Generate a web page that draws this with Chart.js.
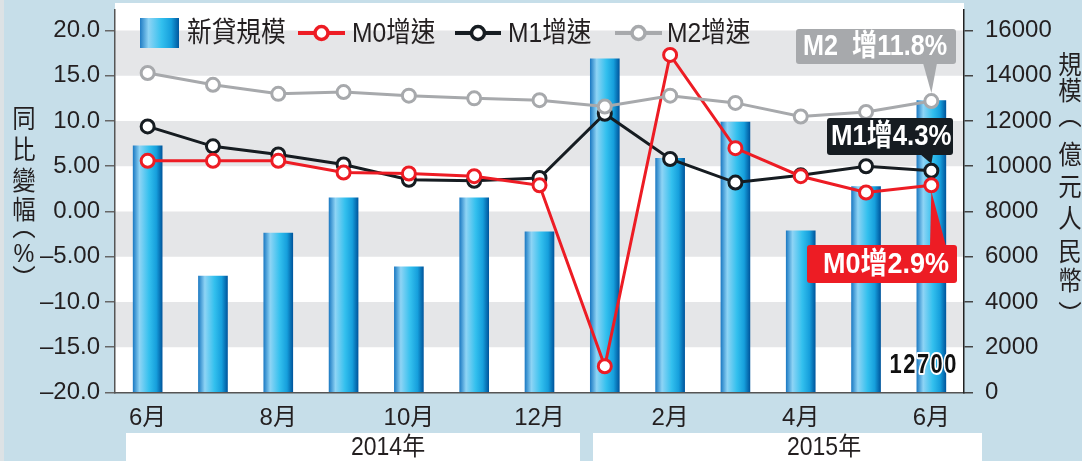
<!DOCTYPE html>
<html>
<head>
<meta charset="utf-8">
<script src="https://cdn.jsdelivr.net/npm/chart.js@4.4.1/dist/chart.umd.min.js"></script>
<style>
    html, body { margin: 0; padding: 0; background: #c6dee9; }
    #wrap { width: 1082px; height: 461px; }
</style>
</head>
<body>
<div id="wrap"><canvas id="chart" width="1082" height="461"></canvas></div>
<script>
// data
const months = ['6月', '7月', '8月', '9月', '10月', '11月', '12月', '1月', '2月', '3月', '4月', '5月', '6月'];
const newLoans = [10900, 5150, 7050, 8600, 5550, 8600, 7100, 14750, 10350, 11950, 7150, 9100, 12900]; // 億元人民幣
const m0Growth = [5.6, 5.6, 5.6, 4.3, 4.2, 3.9, 2.9, -17.1, 17.3, 7.0, 3.9, 2.1, 2.9];
const m1Growth = [9.4, 7.2, 6.3, 5.2, 3.5, 3.4, 3.7, 10.8, 5.8, 3.2, 4.0, 5.0, 4.5];
const m2Growth = [15.3, 14.0, 13.0, 13.2, 12.8, 12.5, 12.3, 11.6, 12.8, 12.0, 10.5, 11.0, 12.2];

const leftTicks = [-20, -15, -10, -5, 0, 5, 10, 15, 20];
const leftTickLabels = ['–20.0', '–15.0', '–10.0', '–5.00', '0.00', '5.00', '10.0', '15.0', '20.0'];
const rightTicks = [0, 2000, 4000, 6000, 8000, 10000, 12000, 14000, 16000];

const legendLabels = ['新貸規模', 'M0增速', 'M1增速', 'M2增速'];
const yearLabels = ['2014年', '2015年'];
const calloutLabels = ['M2  增11.8%', 'M1增4.3%', 'M0增2.9%'];
const loanLabel = '12700';
const leftTitle = ['同', '比', '變', '幅', '︵', '%', '︶'];
const rightTitle = ['規', '模', '︵', '億', '元', '人', '民', '幣', '︶'];

const RED = '#ed1c24';
const BLACK = '#161c21';
const GREY = '#a7a9ac';
const INK = '#231f20';
const FAM = "'Liberation Sans', 'Noto Sans CJK TC', sans-serif";

function barGradient(c, cx, half) {
    const g = c.createLinearGradient(cx - half, 0, cx + half, 0);
    g.addColorStop(0, '#1f7cc4');
    g.addColorStop(0.22, '#8ed4f5');
    g.addColorStop(0.55, '#33c0ee');
    g.addColorStop(0.8, '#169fdc');
    g.addColorStop(1, '#00579e');
    return g;
}

function txt(c, s, x, y, font, color, sx, align) {
    c.save();
    c.font = font;
    c.fillStyle = color;
    c.textAlign = align || 'left';
    c.textBaseline = 'middle';
    c.translate(x, y);
    c.scale(sx, 1);
    c.fillText(s, 0, 0);
    c.restore();
}

function box(c, x0, y0, x1, y1, color, tri) {
    c.save();
    c.fillStyle = color;
    c.beginPath();
    c.roundRect(x0, y0, x1 - x0, y1 - y0, 3);
    c.fill();
    c.beginPath();
    c.moveTo(tri[0][0], tri[0][1]);
    c.lineTo(tri[1][0], tri[1][1]);
    c.lineTo(tri[2][0], tri[2][1]);
    c.closePath();
    c.fill();
    c.restore();
}

const backdrop = {
    id: 'backdrop',
    beforeDraw(chart) {
        const c = chart.ctx;
        const a = chart.chartArea;
        const y = chart.scales.y;
        c.save();
        c.fillStyle = '#c6dee9';
        c.fillRect(0, 0, chart.width, chart.height);
        c.fillStyle = '#dce2e5';
        c.fillRect(0, 0, 4, chart.height);
        c.fillStyle = '#ffffff';
        c.fillRect(a.left, 3, a.right - a.left, a.bottom - 3);
        // grey bands every other 5 points
        c.fillStyle = '#e5e6e8';
        for (let v = 15; v >= -15; v -= 10) {
            const t = y.getPixelForValue(v + 5);
            const b = y.getPixelForValue(v);
            c.fillRect(a.left, t, a.right - a.left, b - t);
        }
        // year boxes
        c.fillStyle = '#ffffff';
        c.fillRect(126, 433, 454, 28);
        c.fillRect(593, 433, 389, 28);
        c.restore();
    },
    afterDraw(chart) {
        const c = chart.ctx;
        const xs = chart.scales.x;
        const y = chart.scales.y;

        // legend
        c.save();
        c.fillStyle = barGradient(c, 159.5, 19.5);
        c.fillRect(140, 18, 39, 30);
        const legendItems = [
            { color: RED, x0: 298, x1: 345, tx: 352 },
            { color: BLACK, x0: 455, x1: 501, tx: 508 },
            { color: GREY, x0: 615, x1: 662, tx: 667 }
        ];
        legendItems.forEach((it, i) => {
            c.strokeStyle = it.color;
            c.lineWidth = 4;
            c.beginPath();
            c.moveTo(it.x0, 33);
            c.lineTo(it.x1, 33);
            c.stroke();
            c.beginPath();
            c.arc((it.x0 + it.x1) / 2, 33, 6.5, 0, Math.PI * 2);
            c.fillStyle = '#fff';
            c.fill();
            c.lineWidth = 3.5;
            c.stroke();
            txt(c, legendLabels[i + 1], it.tx, 34, '28px ' + FAM, INK, 0.88);
        });
        txt(c, legendLabels[0], 187, 34, '28px ' + FAM, INK, 0.88);
        c.restore();

        // callouts
        const tx = xs.getPixelForValue(12);
        const t2 = y.getPixelForValue(m2Growth[12]);
        const t1 = y.getPixelForValue(m1Growth[12]);
        const t0 = y.getPixelForValue(m0Growth[12]);
        box(c, 796, 29, 956, 64, GREY, [[923, 63], [937, 63], [tx, t2 - 8]]);
        txt(c, calloutLabels[0], 803, 47, 'bold 30px ' + FAM, '#fff', 0.84);
        box(c, 827, 118, 953, 155, BLACK, [[920, 154], [933, 154], [tx, t1 - 7]]);
        txt(c, calloutLabels[1], 831, 137, 'bold 30px ' + FAM, '#fff', 0.86);
        box(c, 807, 245, 957, 283, RED, [[930, 246], [946, 246], [tx, t0 + 6]]);
        txt(c, calloutLabels[2], 823, 265, 'bold 30px ' + FAM, '#fff', 0.9);

        // loan size of the last month
        c.save();
        c.font = 'bold 28px ' + FAM;
        c.letterSpacing = '2px';
        c.textAlign = 'right';
        c.textBaseline = 'alphabetic';
        c.translate(958, 373);
        c.scale(0.78, 1);
        c.lineWidth = 4;
        c.strokeStyle = '#fff';
        c.lineJoin = 'round';
        c.strokeText(loanLabel, 0, 0);
        c.fillStyle = '#111';
        c.fillText(loanLabel, 0, 0);
        c.restore();

        // year labels
        txt(c, yearLabels[0], 351, 448, '25px ' + FAM, INK, 0.92);
        txt(c, yearLabels[1], 787, 448, '25px ' + FAM, INK, 0.92);

        // vertical axis titles
        const ly = [121, 152, 183, 212, 229, 255, 281];
        leftTitle.forEach((ch, i) => txt(c, ch, 24, ly[i], '26px ' + FAM, INK, 0.9, 'center'));
        const ry = [67, 93, 118, 157, 189, 221, 254, 283, 317];
        rightTitle.forEach((ch, i) => txt(c, ch, 1070, ry[i], '26px ' + FAM, INK, 0.9, 'center'));
    }
};

const tickFont = { family: FAM, size: 24 };
// drop the label overflow padding so the plot runs near the top edge
const noPad = (s) => { s.paddingTop = 0; s.paddingBottom = 0; };

new Chart(document.getElementById('chart'), {
    data: {
        labels: months,
        datasets: [
            {
                type: 'line', label: 'M2增速', data: m2Growth, yAxisID: 'y', order: 0,
                borderColor: GREY, borderWidth: 3, pointRadius: 6.5, pointBorderWidth: 3,
                pointBackgroundColor: '#fff', pointBorderColor: GREY
            },
            {
                type: 'line', label: 'M0增速', data: m0Growth, yAxisID: 'y', order: 1,
                borderColor: RED, borderWidth: 3, pointRadius: 6.5, pointBorderWidth: 3,
                pointBackgroundColor: '#fff', pointBorderColor: RED
            },
            {
                type: 'line', label: 'M1增速', data: m1Growth, yAxisID: 'y', order: 2,
                borderColor: BLACK, borderWidth: 3, pointRadius: 6.5, pointBorderWidth: 3,
                pointBackgroundColor: '#fff', pointBorderColor: BLACK
            },
            {
                type: 'bar', label: '新貸規模', data: newLoans, yAxisID: 'y2', order: 3,
                barThickness: 29,
                backgroundColor: (ctx) => {
                    const chart = ctx.chart;
                    if (!chart.chartArea || ctx.dataIndex === undefined) return '#29a9e0';
                    const cx = chart.scales.x.getPixelForValue(ctx.dataIndex);
                    return barGradient(chart.ctx, cx, 14.5);
                }
            }
        ]
    },
    options: {
        responsive: false,
        animation: false,
        devicePixelRatio: 1,
        layout: { padding: { top: -3, left: 0, right: 0, bottom: 0 } },
        plugins: { legend: { display: false }, tooltip: { enabled: false } },
        scales: {
            x: {
                offset: true,
                grid: { display: false, drawTicks: false },
                border: { display: true, color: '#555', width: 1.5 },
                ticks: {
                    autoSkip: false, maxRotation: 0, padding: 11, color: INK, font: tickFont,
                    callback: (v, i) => (i % 2 === 0 ? months[i] : '')
                },
                afterFit: (s) => { s.height = 68.5; }
            },
            y: {
                position: 'left', min: -20, max: 22.32,
                afterBuildTicks: (s) => { s.ticks = leftTicks.map(v => ({ value: v })); },
                ticks: {
                    padding: 5, color: INK, font: tickFont,
                    callback: (v) => leftTickLabels[leftTicks.indexOf(v)]
                },
                grid: { drawOnChartArea: false, tickLength: 10, color: '#666', lineWidth: 1.5 },
                border: { color: '#555', width: 1.5 },
                afterFit: (s) => { s.width = 115; noPad(s); }
            },
            y2: {
                position: 'right', min: 0, max: 16928,
                afterBuildTicks: (s) => { s.ticks = rightTicks.map(v => ({ value: v })); },
                ticks: { padding: 12, color: INK, font: tickFont, callback: (v) => String(v) },
                grid: { drawOnChartArea: false, tickLength: 9, color: '#444', lineWidth: 1.5 },
                border: { color: '#222', width: 1.5 },
                afterFit: (s) => { s.width = 118; noPad(s); }
            }
        }
    },
    plugins: [backdrop]
});
</script>
</body>
</html>
